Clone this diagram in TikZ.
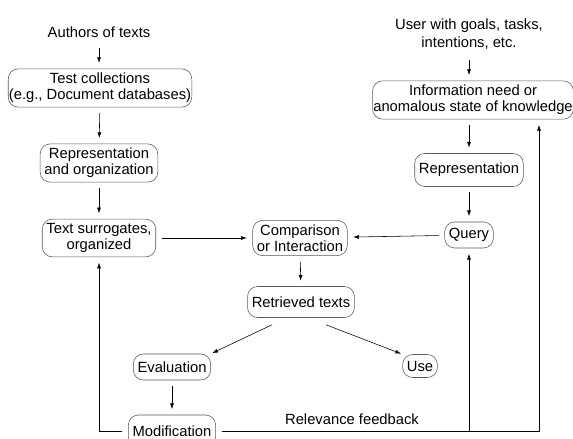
\documentclass[tikz,border=0pt]{standalone}
\usepackage{fontspec}
\setmainfont{Liberation Sans}
\usetikzlibrary{arrows.meta}

\begin{document}
\begin{tikzpicture}[
    box/.style={draw=black!65, rounded corners=0.25cm, align=center, inner xsep=3pt, inner ysep=3pt},
    flow/.style={-{Latex[length=4pt,width=2.8pt]}, shorten <=4pt, shorten >=4pt}, % arrows between boxes
    font=\fontsize{10.5}{11.4}\selectfont
    ]
\useasboundingbox (0,0) rectangle (14.325,-10.975);
\clip (0,0) rectangle (14.325,-10.975);
% left column
\node (authors) at (2.475,-0.8) {Authors of texts};
\node[box, inner xsep=0.5pt] (testcoll) at (2.5,-2.2) {Test collections\\(e.g., Document databases)};
\node[box] (reporg) at (2.475,-4.075) {Representation\\and organization};
\node[box] (surrogates) at (2.475,-5.95) {Text surrogates,\\organized};

% middle
\node[box] (comparison) at (7.5,-5.95) {Comparison\\or Interaction};
\node[box, minimum height=0.775cm] (retrieved) at (7.525,-7.55) {Retrieved texts};
\node[box, minimum height=0.65cm] (evaluation) at (4.3,-9.175) {Evaluation};
\node[box, minimum height=0.575cm] (use) at (10.5,-9.15) {Use};
\node[box, minimum height=0.8cm] (modification) at (4.3,-10.775) {Modification};
\node (relevance) at (8.8,-10.475) {Relevance feedback};

% right column
\node[align=center] (user) at (11.725,-0.85) {User with goals, tasks,\\[1.4pt]intentions, etc.};
\node[box, inner xsep=0.5pt] (infoneed) at (11.825,-2.5) {Information need or\\anomalous state of knowledge};
\node[box, minimum height=0.825cm] (representation) at (11.725,-4.25) {Representation};
\node[box, minimum height=0.65cm] (query) at (11.725,-5.875) {Query};
\coordinate (corner) at (13.475,-10.775);

\draw[flow] (authors) -- (authors |- testcoll.north);
\draw[flow] (testcoll) -- (reporg);
\draw[flow] (reporg) -- (surrogates);
\draw[flow] (surrogates) -- (comparison);
\draw[flow] (user) -- (user |- infoneed.north);
\draw[flow] (representation |- infoneed.south) -- (representation);
\draw[flow] (representation) -- (query);
\draw[flow] (query) -- (comparison);
\draw[flow] (comparison) -- (retrieved);
\draw[flow, shorten <=0pt, shorten >=1pt] ([xshift=-0.725cm,yshift=-0.175cm]retrieved.south) -- (evaluation.north east);
\draw[flow, shorten <=0pt, shorten >=1pt] ([xshift=0.625cm,yshift=-0.175cm]retrieved.south) -- (use.north west);
\draw[flow] (evaluation) -- (modification);
% feedback loops
\draw[flow] (modification) -| (surrogates);
\draw[flow] (modification) -| (query);
\draw[flow] (modification) -- (corner) -- (corner |- infoneed.south);
\end{tikzpicture}
\end{document}
